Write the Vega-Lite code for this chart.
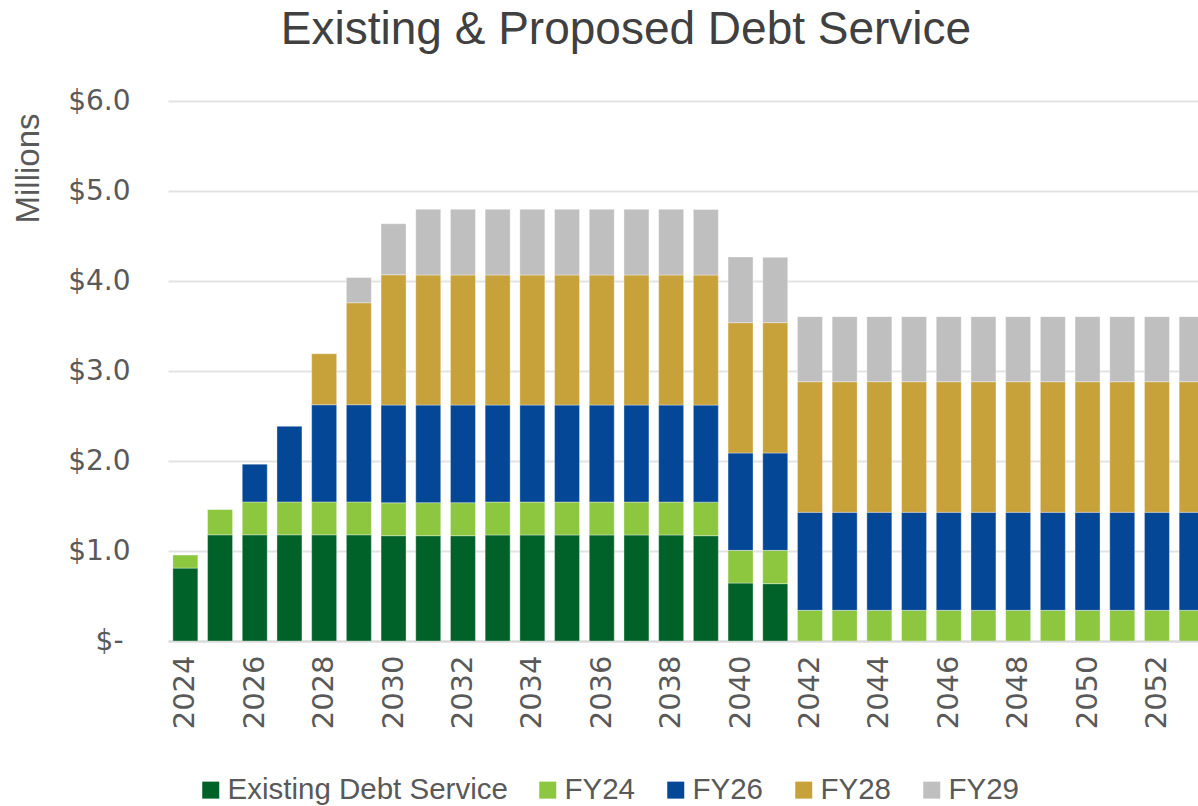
{
  "$schema": "https://vega.github.io/schema/vega-lite/v6.json",
  "width": 1030,
  "height": 540,
  "autosize": {"type": "none"},
  "padding": {"left": 168, "top": 101, "right": 0, "bottom": 165},
  "background": "#ffffff",
  "title": {
    "text": "Existing & Proposed Debt Service",
    "font": "Liberation Sans",
    "fontSize": 46,
    "fontWeight": "normal",
    "color": "#404040",
    "anchor": "middle",
    "frame": "group",
    "dx": -57,
    "baseline": "alphabetic",
    "offset": -3
  },
  "data": {
    "values": [
      {"year": 2024, "Existing Debt Service": 0.81, "FY24": 0.145, "FY26": 0, "FY28": 0, "FY29": 0},
      {"year": 2025, "Existing Debt Service": 1.18, "FY24": 0.28, "FY26": 0, "FY28": 0, "FY29": 0},
      {"year": 2026, "Existing Debt Service": 1.18, "FY24": 0.365, "FY26": 0.42, "FY28": 0, "FY29": 0},
      {"year": 2027, "Existing Debt Service": 1.18, "FY24": 0.365, "FY26": 0.84, "FY28": 0, "FY29": 0},
      {"year": 2028, "Existing Debt Service": 1.18, "FY24": 0.365, "FY26": 1.08, "FY28": 0.567, "FY29": 0},
      {"year": 2029, "Existing Debt Service": 1.18, "FY24": 0.365, "FY26": 1.08, "FY28": 1.133, "FY29": 0.28},
      {"year": 2030, "Existing Debt Service": 1.17, "FY24": 0.365, "FY26": 1.087, "FY28": 1.447, "FY29": 0.567},
      {"year": 2031, "Existing Debt Service": 1.17, "FY24": 0.367, "FY26": 1.085, "FY28": 1.445, "FY29": 0.73},
      {"year": 2032, "Existing Debt Service": 1.17, "FY24": 0.367, "FY26": 1.085, "FY28": 1.445, "FY29": 0.729},
      {"year": 2033, "Existing Debt Service": 1.178, "FY24": 0.366, "FY26": 1.078, "FY28": 1.445, "FY29": 0.729},
      {"year": 2034, "Existing Debt Service": 1.178, "FY24": 0.366, "FY26": 1.078, "FY28": 1.445, "FY29": 0.729},
      {"year": 2035, "Existing Debt Service": 1.178, "FY24": 0.366, "FY26": 1.078, "FY28": 1.445, "FY29": 0.729},
      {"year": 2036, "Existing Debt Service": 1.178, "FY24": 0.366, "FY26": 1.078, "FY28": 1.445, "FY29": 0.729},
      {"year": 2037, "Existing Debt Service": 1.178, "FY24": 0.366, "FY26": 1.078, "FY28": 1.445, "FY29": 0.729},
      {"year": 2038, "Existing Debt Service": 1.178, "FY24": 0.366, "FY26": 1.078, "FY28": 1.445, "FY29": 0.729},
      {"year": 2039, "Existing Debt Service": 1.17, "FY24": 0.373, "FY26": 1.078, "FY28": 1.445, "FY29": 0.729},
      {"year": 2040, "Existing Debt Service": 0.644, "FY24": 0.363, "FY26": 1.082, "FY28": 1.448, "FY29": 0.73},
      {"year": 2041, "Existing Debt Service": 0.637, "FY24": 0.37, "FY26": 1.082, "FY28": 1.448, "FY29": 0.726},
      {"year": 2042, "Existing Debt Service": 0, "FY24": 0.341, "FY26": 1.089, "FY28": 1.451, "FY29": 0.723},
      {"year": 2043, "Existing Debt Service": 0, "FY24": 0.341, "FY26": 1.089, "FY28": 1.451, "FY29": 0.723},
      {"year": 2044, "Existing Debt Service": 0, "FY24": 0.341, "FY26": 1.089, "FY28": 1.451, "FY29": 0.723},
      {"year": 2045, "Existing Debt Service": 0, "FY24": 0.341, "FY26": 1.089, "FY28": 1.451, "FY29": 0.723},
      {"year": 2046, "Existing Debt Service": 0, "FY24": 0.341, "FY26": 1.089, "FY28": 1.451, "FY29": 0.723},
      {"year": 2047, "Existing Debt Service": 0, "FY24": 0.341, "FY26": 1.089, "FY28": 1.451, "FY29": 0.723},
      {"year": 2048, "Existing Debt Service": 0, "FY24": 0.341, "FY26": 1.089, "FY28": 1.451, "FY29": 0.723},
      {"year": 2049, "Existing Debt Service": 0, "FY24": 0.341, "FY26": 1.089, "FY28": 1.451, "FY29": 0.723},
      {"year": 2050, "Existing Debt Service": 0, "FY24": 0.341, "FY26": 1.089, "FY28": 1.451, "FY29": 0.723},
      {"year": 2051, "Existing Debt Service": 0, "FY24": 0.341, "FY26": 1.089, "FY28": 1.451, "FY29": 0.723},
      {"year": 2052, "Existing Debt Service": 0, "FY24": 0.341, "FY26": 1.089, "FY28": 1.451, "FY29": 0.723},
      {"year": 2053, "Existing Debt Service": 0, "FY24": 0.341, "FY26": 1.089, "FY28": 1.451, "FY29": 0.723}
    ]
  },
  "transform": [
    {"fold": ["Existing Debt Service", "FY24", "FY26", "FY28", "FY29"], "as": ["series", "value"]},
    {"filter": "datum.value > 0"}
  ],
  "mark": {"type": "bar", "clip": true, "stroke": "#ffffff", "strokeOpacity": 0.35, "strokeWidth": 1},
  "encoding": {
    "x": {
      "field": "year",
      "type": "ordinal",
      "scale": {"range": [0, 1041], "paddingInner": 0.28, "paddingOuter": 0.14},
      "axis": {
        "title": null,
        "values": [2024, 2026, 2028, 2030, 2032, 2034, 2036, 2038, 2040, 2042, 2044, 2046, 2048, 2050, 2052],
        "labelAngle": -90,
        "labelFont": "DejaVu Sans",
        "labelFontSize": 29,
        "labelColor": "#595959",
        "labelPadding": 14,
        "ticks": false,
        "domain": true,
        "domainColor": "#D9D9D9",
        "domainWidth": 2,
        "grid": false
      }
    },
    "y": {
      "field": "value",
      "type": "quantitative",
      "stack": "zero",
      "scale": {"domain": [0, 6], "nice": false},
      "axis": {
        "title": "Millions",
        "titleFont": "Liberation Sans",
        "titleFontSize": 33,
        "titleFontWeight": "normal",
        "titleColor": "#595959",
        "titleX": -140,
        "titleY": 67,
        "titleAngle": -90,
        "titleAlign": "center",
        "titleBaseline": "middle",
        "values": [0, 1, 2, 3, 4, 5, 6],
        "labelExpr": "datum.value == 0 ? '$-' : '$' + format(datum.value, '.1f')",
        "labelFont": "DejaVu Sans",
        "labelFontSize": 28,
        "labelColor": "#595959",
        "labelPadding": {"condition": {"test": "datum.value == 0", "value": 45}, "value": 38},
        "ticks": false,
        "domain": false,
        "grid": true,
        "gridColor": "#E3E3E3",
        "gridWidth": 2
      }
    },
    "color": {
      "field": "series",
      "type": "nominal",
      "scale": {
        "domain": ["Existing Debt Service", "FY24", "FY26", "FY28", "FY29"],
        "range": ["#006229", "#8DC63F", "#044796", "#C7A13A", "#BFBFBF"]
      },
      "legend": {
        "title": null,
        "orient": "none",
        "direction": "horizontal",
        "legendX": 28,
        "legendY": 674,
        "symbolType": "square",
        "symbolSize": 289,
        "symbolStrokeWidth": 0,
        "labelFont": "Liberation Sans",
        "labelFontSize": 29.5,
        "labelColor": "#595959",
        "labelOffset": 2,
        "columnPadding": 25,
        "labelLimit": 400
      }
    },
    "order": {"field": "series", "sort": "ascending"}
  },
  "config": {
    "view": {"stroke": null}
  }
}
